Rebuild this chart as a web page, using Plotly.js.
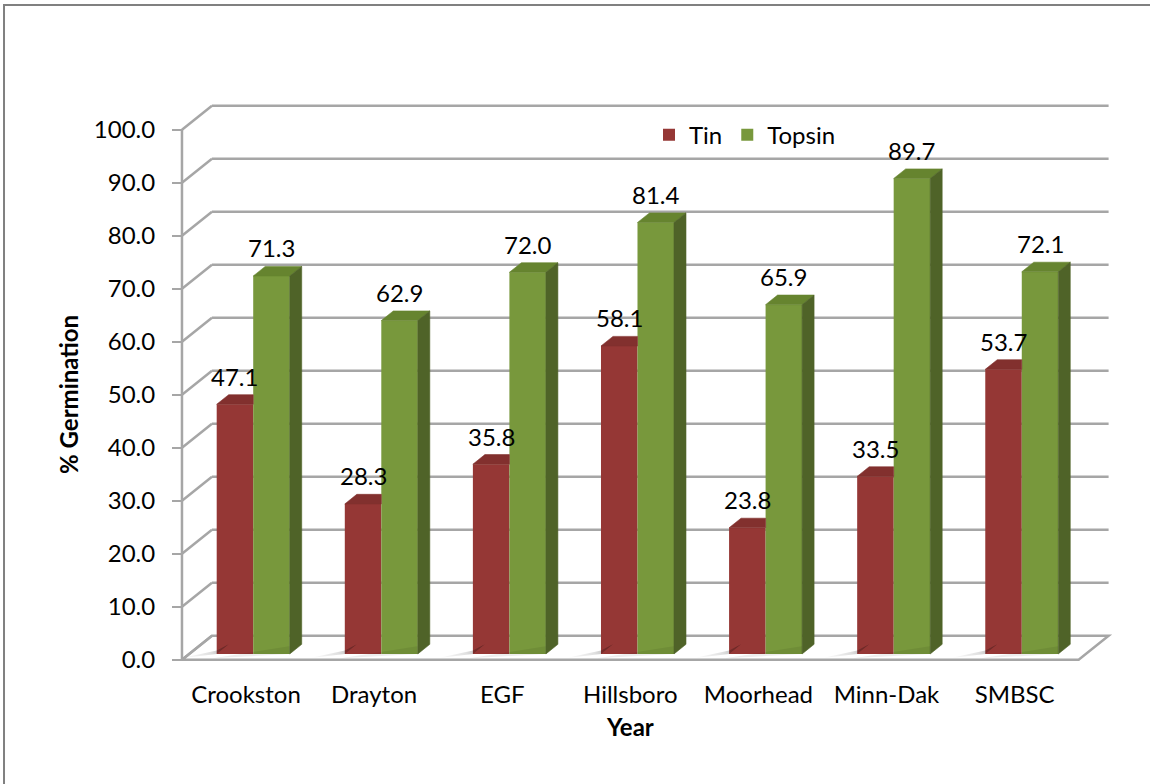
<!DOCTYPE html>
<html>
<head>
<meta charset="utf-8">
<script src="https://cdn.plot.ly/plotly-3.0.1.min.js"></script>
<style>
  html, body { margin: 0; padding: 0; background: #ffffff; }
  #chart { width: 1150px; height: 784px; }
</style>
</head>
<body>
<div id="chart"></div>
<script>
// Germination by location, two treatments
const categories = ['Crookston', 'Drayton', 'EGF', 'Hillsboro', 'Moorhead', 'Minn-Dak', 'SMBSC'];
const tin = [47.1, 28.3, 35.8, 58.1, 23.8, 33.5, 53.7];
const topsin = [71.3, 62.9, 72.0, 81.4, 65.9, 89.7, 72.1];
const yTickValues = [0, 10, 20, 30, 40, 50, 60, 70, 80, 90, 100];

// Pseudo-3D projection: a point at depth d (0 = front, 1 = back wall)
// is shifted by d * (DEPTH_X, DEPTH_Y) in data units.
const DEPTH_X = 0.234;
const DEPTH_Y = 4.53;
const BAR_FRONT = 0.24;   // depth of the bar front faces
const BAR_DEPTH = 0.40;   // depth of a bar
const BAR_W = 0.285;      // width of one bar, in categories

const FONT = 'Lato, Carlito, Calibri, "Open Sans", sans-serif';
const FS = 24;
const GRID = '#a6a6a6';
const COL = {
  tinFront: '#953735', tinTop: '#82302e',
  topFront: '#78983c', topTop: '#66842f', topSide: '#4f6328'
};

const n = categories.length;
const base = DEPTH_Y * BAR_FRONT;
const shiftX = DEPTH_X * BAR_FRONT;
const dx = DEPTH_X * BAR_DEPTH;
const dy = DEPTH_Y * BAR_DEPTH;
const centers = categories.map((_, i) => i + 0.5 + shiftX);

// Polygons (null-separated) for the visible top and side faces
const tinTopX = [], tinTopY = [], topTopX = [], topTopY = [], sideX = [], sideY = [];
categories.forEach((_, i) => {
  const c = centers[i];
  // Tin top face, trimmed where the Topsin front face hides it
  const tl = c - BAR_W, tr = c, tv = tin[i] + base;
  tinTopX.push(tl, tr, tr, tl + dx, tl, null);
  tinTopY.push(tv, tv, tv + dy, tv + dy, tv, null);
  // Topsin top face
  const gl = c, gr = c + BAR_W, gv = topsin[i] + base;
  topTopX.push(gl, gr, gr + dx, gl + dx, gl, null);
  topTopY.push(gv, gv, gv + dy, gv + dy, gv, null);
  // Topsin right side face
  sideX.push(gr, gr, gr + dx, gr + dx, gr, null);
  sideY.push(base, gv, gv + dy, base + dy, base, null);
});

const face = (x, y, color) => ({
  type: 'scatter', mode: 'lines', x: x, y: y, fill: 'toself',
  fillcolor: color, line: {color: color, width: 0.6},
  showlegend: false, hoverinfo: 'skip'
});

// Soft floor shadow to the left of each pair of columns
const shadows = categories.map((_, i) => {
  const l = centers[i] - BAR_W;
  return {
    type: 'scatter', mode: 'none', hoverinfo: 'skip', showlegend: false,
    x: [l, l + dx, l, l - 0.27, l],
    y: [base, base + dy, base + dy * 0.35, 0.3, base],
    fill: 'toself', fillcolor: 'rgba(0,0,0,0.12)',
    fillgradient: {
      type: 'horizontal',
      colorscale: [[0, 'rgba(0,0,0,0)'], [0.6, 'rgba(0,0,0,0.12)'], [1, 'rgba(0,0,0,0.32)']]
    }
  };
});

// Light band on the floor just in front of each pair of columns
const bands = categories.map((_, i) => {
  const l = centers[i] - BAR_W, r = centers[i] + BAR_W;
  return {
    type: 'scatter', mode: 'none', hoverinfo: 'skip', showlegend: false,
    x: [l - 0.03, r + dx, r, l - 0.03],
    y: [0.25, base + dy, base, 0.25],
    fill: 'toself', fillcolor: 'rgba(0,0,0,0.07)'
  };
});

const traces = [
  {
    type: 'bar', name: 'Tin', x: centers, y: tin, base: base,
    width: BAR_W, offset: -BAR_W, marker: {color: COL.tinFront, line: {width: 0}},
    hoverinfo: 'skip'
  },
  {
    type: 'bar', name: 'Topsin', x: centers, y: topsin, base: base,
    width: BAR_W, offset: 0, marker: {color: COL.topFront, line: {width: 0}},
    hoverinfo: 'skip'
  }
].concat(shadows, bands, [
  face(tinTopX, tinTopY, COL.tinTop),
  face(topTopX, topTopY, COL.topTop),
  face(sideX, sideY, COL.topSide)
]);

// Back wall gridlines, side wall diagonals, floor and front axis line
const shapes = [];
shapes.push({
  type: 'path', xref: 'x', yref: 'y', layer: 'below',
  path: `M0,0 L${n},0 L${n + DEPTH_X},${DEPTH_Y} L${DEPTH_X},${DEPTH_Y} Z`,
  fillcolor: '#ffffff', line: {color: GRID, width: 2.5}
});
yTickValues.forEach(v => {
  shapes.push({
    type: 'line', xref: 'x', yref: 'y', layer: 'below',
    x0: 0, y0: v, x1: DEPTH_X, y1: v + DEPTH_Y,
    line: {color: GRID, width: 2.5}
  });
  if (v > 0) {
    shapes.push({
      type: 'line', xref: 'x', yref: 'y', layer: 'below',
      x0: DEPTH_X, y0: v + DEPTH_Y, x1: n + DEPTH_X, y1: v + DEPTH_Y,
      line: {color: GRID, width: 2.5}
    });
  }
});
shapes.push({
  type: 'line', xref: 'x', yref: 'y', layer: 'below',
  x0: 0, y0: 0, x1: 0, y1: yTickValues[yTickValues.length - 1],
  line: {color: GRID, width: 2.5}
});
// Outer frame of the figure
shapes.push({
  type: 'path', xref: 'paper', yref: 'paper',
  path: 'M-0.1847,-0.4 L-0.1847,1.168 L1.2,1.168',
  line: {color: '#808080', width: 2}
});

const labelFont = {family: FONT, size: FS, color: '#000000'};
const annotations = [];
categories.forEach((_, i) => {
  annotations.push({
    x: centers[i] - BAR_W / 2, y: tin[i] + base + dy, xref: 'x', yref: 'y',
    text: tin[i].toFixed(1), showarrow: false, yanchor: 'bottom', yshift: 2,
    font: labelFont
  });
  annotations.push({
    x: centers[i] + BAR_W / 2, y: topsin[i] + base + dy, xref: 'x', yref: 'y',
    text: topsin[i].toFixed(1), showarrow: false, yanchor: 'bottom', yshift: 2,
    font: labelFont
  });
});
// Axis titles, centred on the drawn axes
annotations.push({
  x: -0.1157, y: 0.478, xref: 'paper', yref: 'paper', textangle: -90,
  text: '<b>% Germination</b>', showarrow: false,
  xanchor: 'center', yanchor: 'middle', font: labelFont
});
annotations.push({
  x: n / 2, y: -0.1097, xref: 'x', yref: 'paper',
  text: '<b>Year</b>', showarrow: false,
  xanchor: 'center', yanchor: 'middle', font: labelFont
});

const layout = {
  width: 1150, height: 784,
  margin: {l: 178, r: 30, t: 100, b: 119, pad: 0},
  paper_bgcolor: '#ffffff', plot_bgcolor: 'rgba(0,0,0,0)',
  font: labelFont,
  barmode: 'overlay',
  showlegend: true,
  legend: {
    orientation: 'h', x: 0.5, xanchor: 'left', y: 0.938, yanchor: 'middle',
    bgcolor: 'rgba(0,0,0,0)', font: labelFont, traceorder: 'normal'
  },
  xaxis: {
    range: [-0.031, 7.323], anchor: 'free', position: 0.00885,
    tickmode: 'array', tickvals: categories.map((_, i) => i + 0.5), ticktext: categories,
    ticks: '', showgrid: false, zeroline: false, showline: false,
    ticklabelstandoff: 18, tickfont: labelFont
  },
  xaxis2: {
    range: [-0.031, 7.323], overlaying: 'x', anchor: 'free', position: 0.00885,
    tickmode: 'array', tickvals: categories.map((_, i) => i).concat([n]),
    ticks: 'outside', ticklen: 8, tickwidth: 2, tickcolor: GRID,
    showticklabels: false, showgrid: false, zeroline: false, showline: false
  },
  yaxis: {
    range: [-1, 105.6], anchor: 'free', position: 0.0042,
    tickmode: 'array', tickvals: yTickValues, tickformat: '.1f',
    ticks: 'outside', ticklen: 10, tickwidth: 2, tickcolor: GRID,
    showgrid: false, zeroline: false, showline: false,
    ticklabelstandoff: 12, tickfont: labelFont
  },
  shapes: shapes,
  annotations: annotations
};

Plotly.newPlot('chart', traces, layout, {staticPlot: true, displayModeBar: false});
</script>
</body>
</html>
